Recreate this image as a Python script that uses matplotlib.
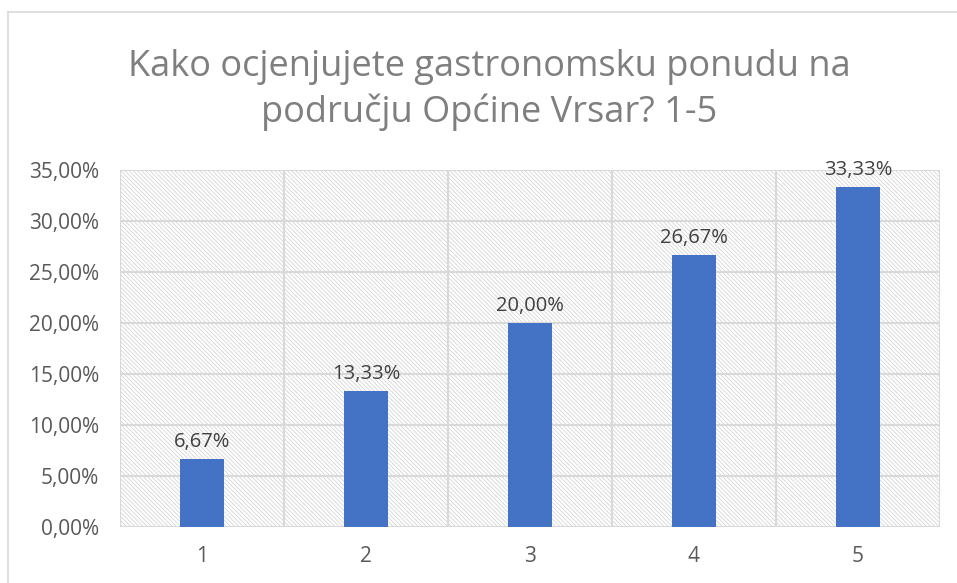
import matplotlib.pyplot as plt
from matplotlib.patches import Rectangle
from matplotlib.lines import Line2D

categories = ['1', '2', '3', '4', '5']
values = [6.67, 13.33, 20.00, 26.67, 33.33]
yticks = [0, 5, 10, 15, 20, 25, 30, 35]
title = 'Kako ocjenjujete gastronomsku ponudu na\npodručju Općine Vrsar? 1-5'

plt.rcParams['font.family'] = ['Open Sans', 'DejaVu Sans']
plt.rcParams['hatch.linewidth'] = 0.6
plt.rcParams['hatch.color'] = '#d6d6d6'

fig = plt.figure(figsize=(9.57, 5.83), dpi=100)
ax = fig.add_axes([120 / 957, 1 - 527 / 583, 820 / 957, 357 / 583])

# chart border (left/top visible)
fig.add_artist(Line2D([8 / 957, 8 / 957], [0, 1 - 12 / 583], color='#d9d9d9', lw=1.2, transform=fig.transFigure))
fig.add_artist(Line2D([8 / 957, 1], [1 - 12 / 583, 1 - 12 / 583], color='#d9d9d9', lw=1.2, transform=fig.transFigure))

x = list(range(1, len(categories) + 1))
ax.add_patch(Rectangle((0, 0), 1, 1, transform=ax.transAxes, facecolor='white',
                       edgecolor='#d6d6d6', hatch='\\' * 8, lw=0, zorder=0))
ax.set_xlim(0.5, 5.5)
ax.set_ylim(0, 35)
for b in [0.5, 1.5, 2.5, 3.5, 4.5, 5.5]:
    ax.axvline(b, color='#d9d9d9', lw=1.5, zorder=1)
for t in yticks:
    ax.axhline(t, color='#d9d9d9', lw=1.5, zorder=1)

ax.bar(x, values, width=0.27, color='#4472C4', zorder=2)
for xi, v in zip(x, values):
    ax.annotate(f'{v:.2f}%'.replace('.', ','), (xi, v), xytext=(0, 5), textcoords='offset points',
                ha='center', va='bottom', fontsize=14.5, color='#404040')

ax.set_xticks(x)
ax.set_xticklabels(categories)
ax.set_yticks(yticks)
ax.set_yticklabels([f'{t:.2f}%'.replace('.', ',') for t in yticks])
ax.tick_params(length=0, labelsize=15, colors='#595959')
ax.tick_params(axis='x', pad=14)
ax.tick_params(axis='y', pad=15)
for s in ax.spines.values():
    s.set_visible(False)

fig.text(489 / 957, 1 - 90 / 583, title, ha='center', va='center', fontsize=26, color='#7f7f7f', linespacing=1.3)

fig.savefig('out.png', dpi=100)
